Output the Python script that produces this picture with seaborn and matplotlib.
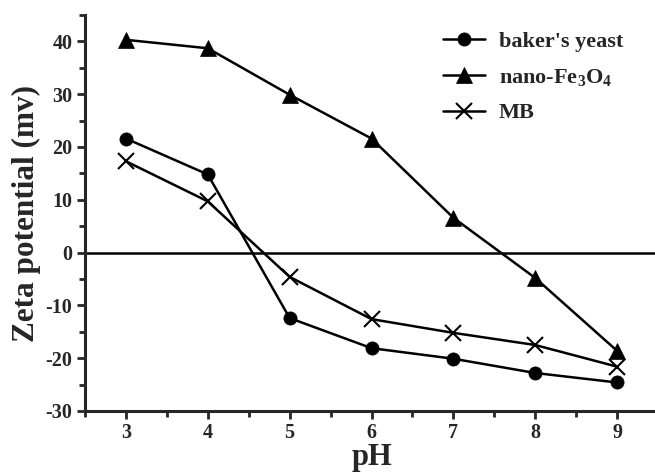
import matplotlib
matplotlib.use("Agg")
import matplotlib.pyplot as plt
import seaborn as sns
import pandas as pd
from matplotlib.ticker import MultipleLocator

ph = [3, 4, 5, 6, 7, 8, 9]
yeast = [21.6, 14.8, -12.4, -18.1, -20.1, -22.8, -24.6]
fe3o4 = [40.3, 38.7, 29.9, 21.6, 6.6, -4.8, -18.6]
mb = [17.3, 9.7, -4.6, -12.6, -15.2, -17.5, -21.6]
labels = ["baker's yeast", "nano-Fe$_3$O$_4$", "MB"]

sns.set_theme(style="ticks")
plt.rcParams['font.family'] = ['Liberation Serif', 'DejaVu Serif']
plt.rcParams['font.weight'] = 'bold'
plt.rcParams['axes.unicode_minus'] = False
plt.rcParams['mathtext.fontset'] = 'custom'
plt.rcParams['mathtext.rm'] = 'Liberation Serif:bold'
plt.rcParams['mathtext.it'] = 'Liberation Serif:bold'
plt.rcParams['mathtext.bf'] = 'Liberation Serif:bold'
plt.rcParams['mathtext.default'] = 'rm'

fig = plt.figure(figsize=(6.55, 4.74), dpi=100)
ax = fig.add_axes([85/655, 63/474, 573/655, 396/474])

series = [(yeast, 'o', 9.5), (fe3o4, '^', 11), (mb, 'x', 11)]
for (vals, mk, ms), lab in zip(series, labels):
    df = pd.DataFrame({'pH': ph, 'zeta': vals})
    sns.lineplot(data=df, x='pH', y='zeta', ax=ax, color='black', lw=1.8,
                 marker=mk, markersize=ms, markeredgecolor='black',
                 markeredgewidth=1.5 if mk == 'x' else 0.5, label=lab)

ax.axhline(0, color='black', lw=1.8)
ax.set_xlim(2.5, 9.5)
ax.set_ylim(-30, 45)
ax.xaxis.set_minor_locator(MultipleLocator(0.5))
ax.yaxis.set_minor_locator(MultipleLocator(5))
ax.set_xticks([3, 4, 5, 6, 7, 8, 9])
ax.set_yticks([-30, -20, -10, 0, 10, 20, 30, 40])
ax.tick_params(which='major', direction='out', length=6, width=2, labelsize=14.5, pad=3)
ax.tick_params(which='minor', direction='out', length=4, width=2)
for t in ax.get_xticklabels() + ax.get_yticklabels():
    t.set_fontweight('bold')

ax.spines['top'].set_visible(False)
ax.spines['right'].set_visible(False)
ax.spines['left'].set_linewidth(2.2)
ax.spines['bottom'].set_linewidth(2.2)

ax.set_xlabel('pH', fontsize=22, fontweight='bold', labelpad=0)
ax.set_ylabel('Zeta potential (mv)', fontsize=22.5, fontweight='bold', labelpad=3)

leg = ax.legend(loc='upper left', bbox_to_anchor=(0.59, 1.01), frameon=False,
                handlelength=1.9, labelspacing=0.68, handletextpad=0.6,
                prop={'weight': 'bold', 'size': 16})

fig.savefig('out.png', dpi=100)
